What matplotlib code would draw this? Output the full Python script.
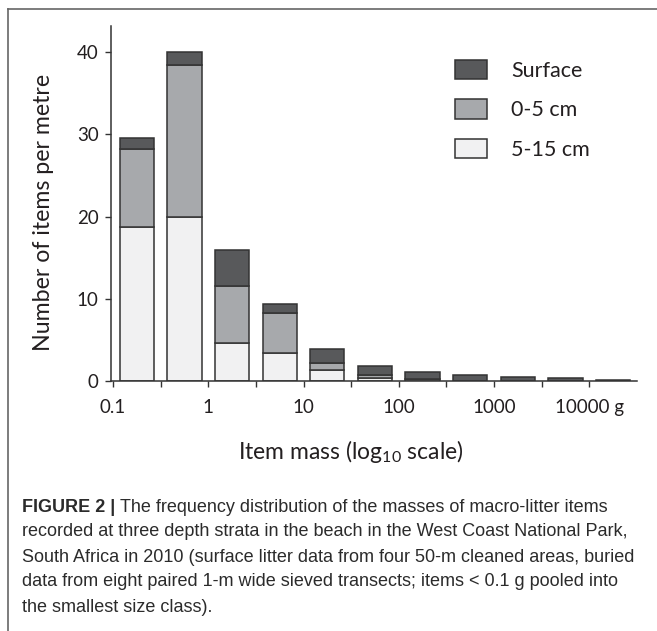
import numpy as np
import matplotlib.pyplot as plt
from matplotlib.patches import Patch
from matplotlib.lines import Line2D

# size classes, bar centres in log10(g)
class_centres = [-0.75, -0.25, 0.25, 0.75, 1.25, 1.75, 2.25, 2.75, 3.25, 3.75, 4.25]
# items per metre in each stratum
deep = [18.7, 19.9, 4.6, 3.4, 1.3, 0.4, 0.3, 0, 0, 0, 0]          # 5-15 cm
shallow = [9.5, 18.6, 6.9, 4.9, 0.9, 0.33, 0, 0, 0, 0, 0]          # 0-5 cm
surface = [1.4, 1.5, 4.5, 1.1, 1.75, 1.07, 0.85, 0.7, 0.53, 0.33, 0.12]

tick_pos = [-1, 0, 1, 2, 3, 4]
tick_labels = ['0.1', '1', '10', '100', '1000', '10000 g']
legend_labels = ['Surface', '0-5 cm', '5-15 cm']

c_surf = '#58595b'
c_shal = '#a7a9ac'
c_deep = '#f1f1f2'
edge = '#333333'
txt = '#231f20'

plt.rcParams['font.family'] = ['Lato', 'DejaVu Sans']
plt.rcParams['mathtext.fontset'] = 'custom'
plt.rcParams['mathtext.rm'] = 'Lato'
plt.rcParams['mathtext.default'] = 'rm'

fig = plt.figure(figsize=(6.57, 6.31), dpi=100)
ax = fig.add_axes([0.169, 0.3962, 0.8006, 0.5626])

x = np.array(class_centres)
deep = np.array(deep)
shallow = np.array(shallow)
surface = np.array(surface)
w = 0.36
kw = dict(width=w, edgecolor=edge, linewidth=1.1)
ax.bar(x, deep, color=c_deep, **kw)
ax.bar(x, shallow, bottom=deep, color=c_shal, **kw)
ax.bar(x, surface, bottom=deep + shallow, color=c_surf, **kw)

ax.set_xlim(-1.02, 4.5)
ax.set_ylim(0, 43.2)
ax.set_yticks([0, 10, 20, 30, 40])
ax.set_xticks(tick_pos)
ax.set_xticklabels(tick_labels)
ax.set_xticks(np.arange(-0.5, 4.0, 0.5), minor=True)
for s in ['top', 'right']:
    ax.spines[s].set_visible(False)
for s in ['left', 'bottom']:
    ax.spines[s].set_color(edge)
    ax.spines[s].set_linewidth(1.1)
ax.tick_params(which='both', direction='out', length=4, width=1.0, color=edge,
               labelsize=13.5, labelcolor=txt)
ax.tick_params(axis='x', pad=9)
ax.tick_params(axis='y', pad=5)
ax.set_ylabel('Number of items per metre', fontsize=16.7, color=txt, va='center')
ax.yaxis.set_label_coords(-0.129, 0.476)
ax.set_xlabel('Item mass (log$_{10}$ scale)', fontsize=16.5, color=txt, va='center')
ax.xaxis.set_label_coords(0.456, -0.2)

handles = [Patch(facecolor=c, edgecolor=edge, linewidth=1.1) for c in [c_surf, c_shal, c_deep]]
ax.legend(handles, legend_labels, loc='upper left', bbox_to_anchor=(455 / 657, 1 - 59.5 / 631),
          bbox_transform=fig.transFigure, frameon=False, fontsize=15.5, handlelength=1.49,
          handleheight=1.02, labelspacing=0.86, handletextpad=1.12, borderpad=0, borderaxespad=0,
          labelcolor=txt)

# frame of the figure panel (only top and left edges are in view)
fig.add_artist(Line2D([8 / 657, 1], [1 - 8.5 / 631] * 2, transform=fig.transFigure,
                      color='#666666', linewidth=1.2))
fig.add_artist(Line2D([8 / 657] * 2, [0, 1 - 8.5 / 631], transform=fig.transFigure,
                      color='#666666', linewidth=1.2))

# caption
cap_font = ['Liberation Sans', 'DejaVu Sans']
cap_size = 13.0
cap_col = '#2b2b2b'
lines = [
    'recorded at three depth strata in the beach in the West Coast National Park,',
    'South Africa in 2010 (surface litter data from four 50-m cleaned areas, buried',
    'data from eight paired 1-m wide sieved transects; items < 0.1 g pooled into',
    'the smallest size class).',
]
x0 = 22 / 657
y0 = 1 - 507 / 631
t1 = fig.text(x0, y0, 'FIGURE 2 | ', family=cap_font, fontsize=cap_size, weight='bold',
              color=cap_col, va='center')
fig.canvas.draw()
bb = t1.get_window_extent()
fig.text(bb.x1 / fig.bbox.width, y0,
         'The frequency distribution of the masses of macro-litter items',
         family=cap_font, fontsize=cap_size, color=cap_col, va='center')
for i, ln in enumerate(lines):
    fig.text(x0, y0 - (i + 1) * 25 / 631, ln, family=cap_font, fontsize=cap_size,
             color=cap_col, va='center')

fig.savefig('out.png', dpi=100)
